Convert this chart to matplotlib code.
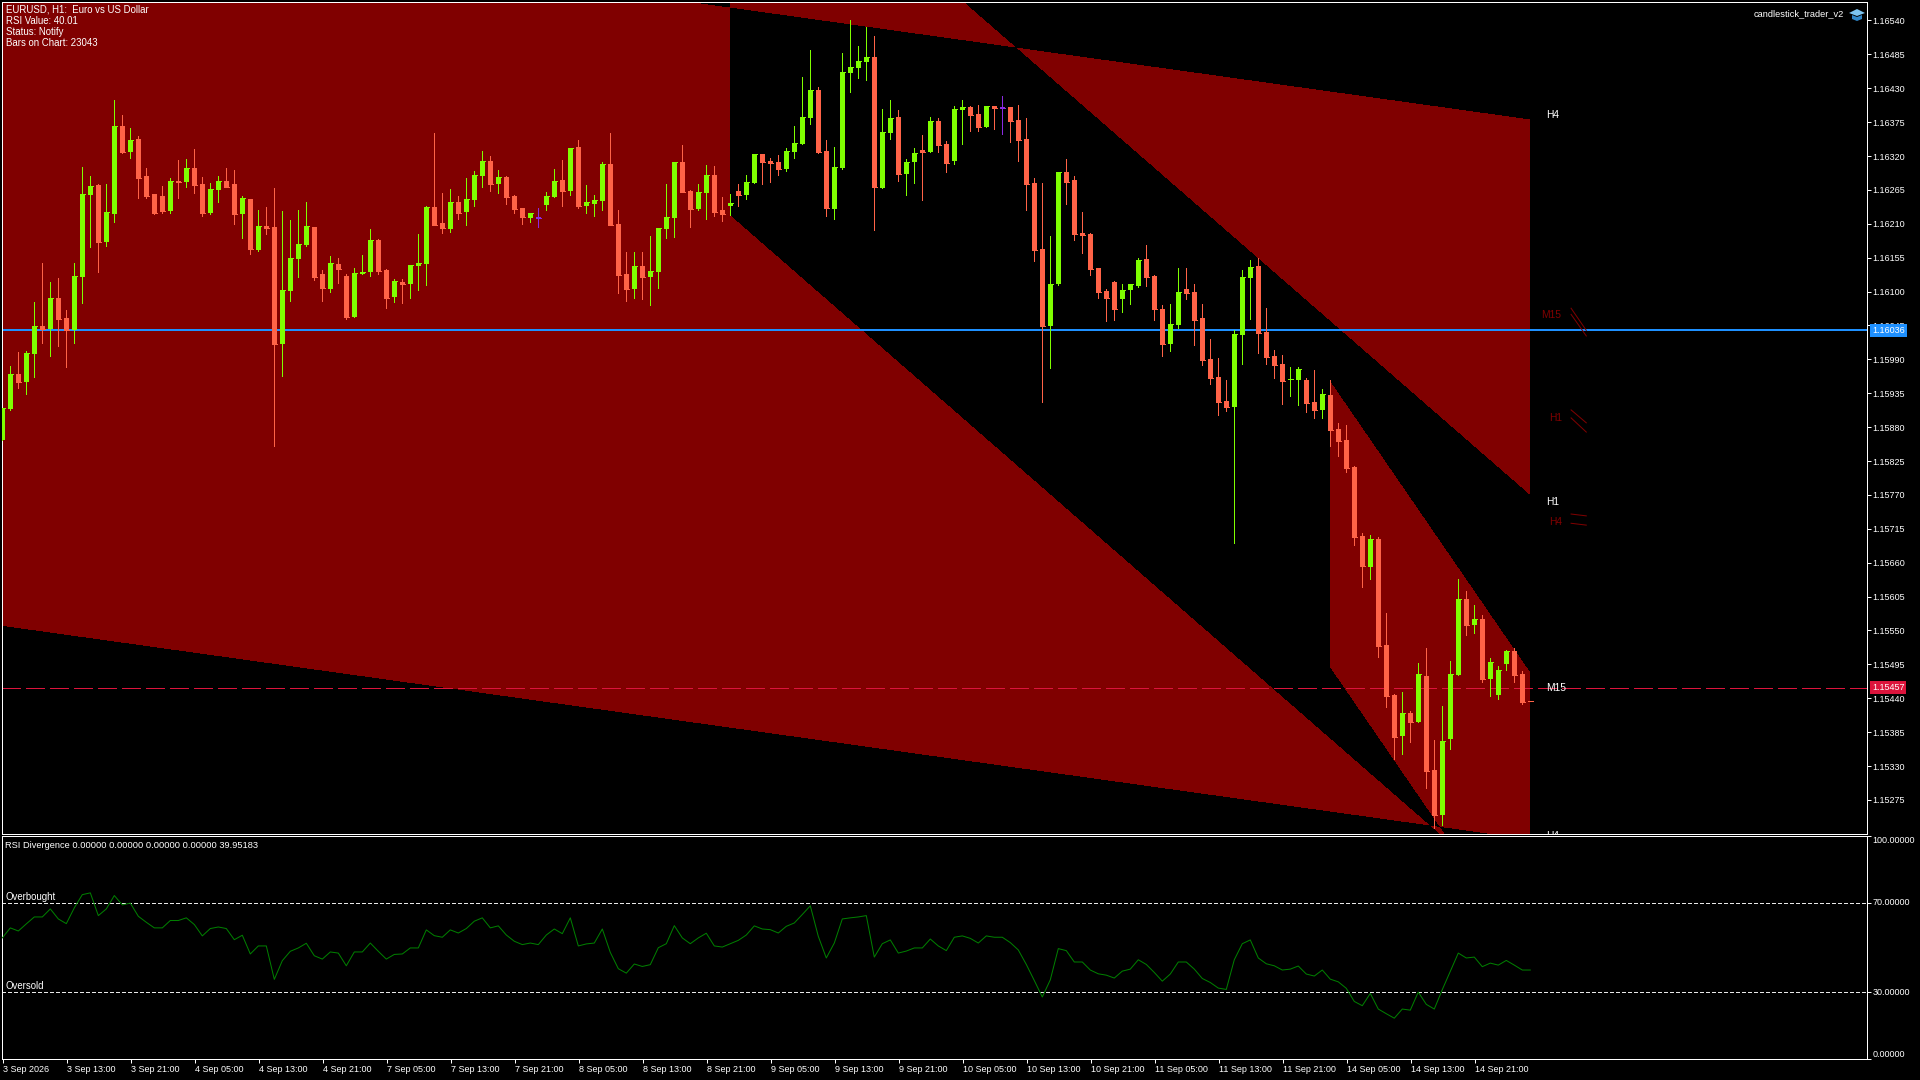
import numpy as np
import matplotlib
matplotlib.use("Agg")
import matplotlib.pyplot as plt
from matplotlib.colors import ListedColormap
from matplotlib.patches import Polygon
from matplotlib.transforms import IdentityTransform

plt.rcParams['font.family'] = ['Liberation Sans', 'DejaVu Sans']
plt.rcParams['lines.scale_dashes'] = False

# EURUSD H1 candles, in points (1/100000)
opens = [
    115859,115909,115967,115953,115999,116044,116039,116089,116057,116037,
    116124,116257,116273,116180,116226,116369,116326,116347,116287,116258,
    116255,116231,116279,116278,116300,116274,116227,116265,116279,116274,
    116226,116250,116167,116206,116205,116015,116101,116153,116175,116205,
    116128,116104,116145,116125,116059,116128,116131,116184,116135,116091,
    116115,116112,116141,116145,116237,116211,116201,116245,116229,116249,
    116287,116312,116274,116286,116255,116235,116219,116221,116240,116253,
    116281,116263,116334,116239,116242,116247,116307,116209,116128,116104,
    116141,116124,116131,116201,116219,116310,116263,116234,116260,116289,
    116232,116239,116263,116257,116276,116323,116312,116310,116299,116326,
    116339,116381,116427,116328,116234,116300,116455,116463,116472,116480,
    116268,116357,116383,116291,116310,116330,116326,116377,116339,116312,
    116395,116399,116388,116367,116401,116399,116399,116378,116347,116276,
    116169,116044,116112,116294,116281,116195,116193,116138,116101,116115,
    116088,116102,116109,116153,116125,116072,116015,116046,116104,116099,
    116057,115990,115962,115922,115912,116029,116122,116141,116034,115995,
    115982,115956,115956,115956,115921,115908,115932,115877,115859,115815,
    115703,115653,115699,115527,115445,115379,115416,115401,115476,115323,
    115250,115374,115477,115601,115559,115568,115471,115445,115495,115516,
    115479,115436]
highs = [
    115911,115979,116002,116003,116083,116146,116115,116122,116070,116146,
    116302,116287,116274,116274,116411,116386,116365,116352,116300,116258,
    116271,116284,116313,116315,116331,116286,116276,116287,116300,116297,
    116255,116250,116232,116237,116268,116231,116216,116232,116245,116205,
    116135,116158,116154,116128,116138,116159,116201,116185,116137,116120,
    116120,116143,116193,116239,116357,116260,116266,116255,116284,116295,
    116328,116320,116297,116287,116257,116235,116227,116235,116261,116299,
    116313,116333,116346,116273,116257,116310,116357,116232,116164,116164,
    116164,116190,116203,116274,116310,116338,116265,116274,116305,116304,
    116253,116258,116274,116289,116323,116323,116317,116322,116333,116369,
    116448,116492,116432,116346,116334,116487,116541,116498,116529,116515,
    116396,116411,116395,116315,116333,116354,116383,116381,116344,116401,
    116411,116401,116403,116401,116401,116417,116399,116403,116381,116284,
    116276,116190,116294,116315,116287,116229,116195,116138,116104,116117,
    116112,116112,116154,116175,116127,116078,116080,116138,116138,116112,
    116080,116023,115992,115956,116037,116135,116151,116154,116073,116006,
    115997,115978,115978,115960,115973,115942,115956,115886,115883,115817,
    115708,115705,115702,115579,115447,115450,115419,115497,115521,115372,
    115427,115500,115634,115614,115591,115575,115505,115492,115518,115521,
    115484,115436]
lows = [
    115859,115908,115943,115934,115962,116016,115995,116011,115978,116016,
    116081,116172,116131,116174,116213,116325,116317,116252,116252,116226,
    116227,116227,116252,116270,116260,116222,116226,116245,116270,116209,
    116187,116161,116166,116193,115849,115963,116085,116124,116174,116119,
    116085,116099,116114,116055,116059,116128,116125,116128,116073,116083,
    116081,116089,116102,116110,116208,116195,116196,116218,116208,116239,
    116270,116263,116260,116242,116227,116209,116213,116205,116232,116253,
    116239,116257,116235,116227,116222,116232,116208,116097,116085,116089,
    116088,116078,116106,116187,116188,116261,116205,116232,116218,116222,
    116214,116224,116239,116250,116276,116274,116278,116289,116295,116317,
    116339,116372,116325,116222,116218,116299,116424,116446,116443,116200,
    116268,116347,116279,116257,116276,116249,116326,116326,116294,116307,
    116339,116360,116360,116367,116364,116356,116343,116312,116232,116149,
    115921,115976,116110,116242,116184,116162,116127,116089,116052,116054,
    116067,116080,116107,116109,116054,115995,116003,116041,116088,116013,
    115981,115950,115900,115906,115692,115982,116055,116000,115982,115960,
    115917,115930,115916,115904,115895,115895,115849,115833,115807,115689,
    115621,115634,115507,115426,115341,115349,115369,115401,115294,115229,
    115234,115357,115477,115542,115546,115466,115444,115439,115486,115466,
    115431,115436]
closes = [
    115911,115967,115953,116000,116044,116039,116089,116055,116037,116125,
    116258,116271,116180,116229,116369,116326,116346,116284,116255,116227,
    116231,116279,116278,116300,116273,116227,116266,116279,116270,116226,
    116252,116169,116206,116203,116015,116102,116154,116177,116206,116124,
    116106,116146,116137,116059,116130,116131,116184,116133,116089,116117,
    116112,116143,116146,116237,116208,116203,116245,116227,116250,116289,
    116312,116274,116286,116253,116234,116221,116227,116220,116255,116279,
    116263,116333,116239,116245,116249,116307,116208,116127,116104,116141,
    116124,116133,116203,116221,116310,116261,116234,116261,116289,116229,
    116226,116244,116257,116278,116323,116310,116308,116299,116328,116341,
    116383,116427,116326,116235,116302,116456,116464,116474,116480,116270,
    116359,116381,116291,116310,116325,116326,116377,116338,116308,116396,
    116399,116386,116367,116401,116398,116398,116377,116346,116274,116167,
    116044,116112,116294,116278,116193,116192,116137,116099,116089,116072,
    116102,116112,116151,116124,116072,116015,116047,116099,116097,116054,
    115989,115960,115921,115912,116031,116124,116140,116033,115994,115981,
    115955,115958,115974,115919,115908,115934,115875,115857,115814,115702,
    115655,115699,115525,115444,115377,115416,115401,115479,115322,115250,
    115370,115479,115601,115559,115568,115471,115499,115486,115516,115477,
    115434,115436]
purple_bars = [67, 125]

rsi = [
    54.3,58.8,57.4,60.6,63.7,63.7,67.3,62.8,60.7,67.8,
    73.7,74.5,64.3,67.3,73.3,69.1,69.9,64.0,61.3,58.8,
    58.8,62.1,62.1,63.3,60.3,55.2,58.5,59.2,58.5,53.5,
    55.5,47.1,50.7,50.7,35.7,44.1,48.3,49.8,51.9,46.3,
    44.8,48.0,47.5,41.8,48.0,48.0,52.0,48.3,44.8,46.9,
    47.1,49.8,49.8,57.9,55.3,54.6,57.9,56.5,58.5,61.8,
    63.3,58.8,59.7,55.6,52.8,51.3,52.0,51.3,55.6,58.3,
    56.2,63.3,50.7,51.6,52.0,58.3,47.8,40.5,38.5,42.6,
    41.5,42.3,49.9,51.7,59.8,54.3,51.7,54.3,56.4,50.7,
    50.2,51.7,53.2,55.6,59.7,58.3,58.0,56.5,59.5,61.0,
    64.8,68.7,55.0,45.3,52.0,62.8,63.3,63.7,64.3,45.7,
    51.7,53.4,47.5,48.4,49.8,49.8,53.8,50.7,48.6,54.6,
    55.2,54.1,52.0,55.2,54.6,54.6,52.2,48.9,42.4,35.2,
    27.8,35.5,49.5,48.6,43.5,43.5,39.9,38.2,37.6,36.3,
    39.4,40.3,44.5,42.4,38.8,34.9,38.1,43.5,43.5,40.3,
    36.1,34.3,31.8,31.2,44.5,51.7,53.4,45.3,42.7,41.8,
    39.9,40.3,41.7,38.1,37.2,39.9,35.8,34.6,31.7,25.8,
    23.9,29.4,22.4,20.3,18.3,22.4,21.9,30.0,24.5,22.4,
    31.1,39.3,47.5,45.3,45.7,41.4,43.0,42.1,44.2,42.1,
    39.9,39.9]

# regression channels: bar range, then upper and lower edge at both ends
channel_t = [[0, 191], [91, 191], [166, 191]]
channel_top = [[116727, 116380], [116901, 115770], [115955, 115482]]
channel_bot = [[115557, 115210], [116224, 115091], [115490, 115017]]

bid_price = 1.15457
ask_price = 1.16037
ask_text = "1.16036"

price_ticks = [1.16540 - 0.00055 * k for k in range(24)]
rsi_ticks = [0, 30, 70, 100]
time_labels = ["3 Sep 2026", "3 Sep 13:00", "3 Sep 21:00", "4 Sep 05:00", "4 Sep 13:00", "4 Sep 21:00",
               "7 Sep 05:00", "7 Sep 13:00", "7 Sep 21:00", "8 Sep 05:00", "8 Sep 13:00", "8 Sep 21:00",
               "9 Sep 05:00", "9 Sep 13:00", "9 Sep 21:00", "10 Sep 05:00", "10 Sep 13:00", "10 Sep 21:00",
               "11 Sep 05:00", "11 Sep 13:00", "11 Sep 21:00", "14 Sep 05:00", "14 Sep 13:00", "14 Sep 21:00"]

# timeframe labels to the right of the last bar
tf_labels = ["H4", "M15", "H1", "H1", "H4", "M15", "H4"]
tf_t = [193.0, 192.4, 193.3, 193.0, 193.3, 193.0, 193.0]
tf_price = [1.16386, 1.16062, 1.15895, 1.15759, 1.15726, 1.15457, 1.15216]
DARK_RED = "#800000"
tf_colors = ["white", DARK_RED, DARK_RED, "white", DARK_RED, "white", "white"]

# the little channel marks next to the dark labels
mark_t = [[196.1, 198.0]] * 6
mark_price = [[1.16073, 1.16037], [1.16063, 1.16028], [1.15908, 1.15887],
              [1.15895, 1.15872], [1.15739, 1.15736], [1.15724, 1.15721]]

W, H = 1920, 1080
FS = 6.5
FS_TEXT = 6.9
BULL = "#7FFF00"
BEAR = "#FF6347"
PURPLE = "#8A2BE2"
PX = 0.72  # one pixel in points


def px_axes(fig, left, top, right, bottom):
    return fig.add_axes([left / W, 1 - bottom / H, (right - left) / W, (bottom - top) / H], facecolor="black")


def style_axes(ax):
    for s in ax.spines.values():
        s.set_color("white")
        s.set_linewidth(PX)
    ax.tick_params(colors="white", length=2.9, width=PX, labelsize=FS, pad=1.2)
    ax.yaxis.tick_right()


fig = plt.figure(figsize=(W / 100, H / 100), dpi=100, facecolor="black")
ax = px_axes(fig, 2, 2, 1867, 834)
sub = px_axes(fig, 2, 836, 1867, 1059)
style_axes(ax)
style_axes(sub)

t_lim = (-0.04, 233.09)
p_lim = (1.152197, 1.165700)

# channels overlap with xor, like the terminal draws them
grid_t = np.linspace(t_lim[0], t_lim[1], 1865)
grid_p = np.linspace(p_lim[1], p_lim[0], 832)
tt, pp = np.meshgrid(grid_t, grid_p)
fill = np.zeros(tt.shape, dtype=int)
for ts, top, bot in zip(channel_t, channel_top, channel_bot):
    frac = (tt - ts[0]) / (ts[1] - ts[0])
    upper = (top[0] + frac * (top[1] - top[0])) / 1e5
    lower = (bot[0] + frac * (bot[1] - bot[0])) / 1e5
    inside = (tt >= ts[0]) & (tt <= ts[1]) & (pp <= upper) & (pp >= lower)
    fill ^= inside.astype(int)
# the first channel starts left of the first bar
fill[(tt < 0) & (pp >= channel_bot[0][0] / 1e5)] = 1
ax.imshow(fill, extent=[t_lim[0], t_lim[1], p_lim[0], p_lim[1]], cmap=ListedColormap(["black", DARK_RED]),
          interpolation="nearest", aspect="auto", zorder=0)

ax.axhline(ask_price, color="#1E90FF", lw=2 * PX, zorder=1, antialiased=False)
ax.axhline(bid_price, color="#DC143C", lw=PX, ls=(0, (13, 4.2)), zorder=1, antialiased=False)

# candles
o = np.array(opens) / 1e5
h = np.array(highs) / 1e5
l = np.array(lows) / 1e5
c = np.array(closes) / 1e5
t = np.arange(len(o))
colors = [BULL if c[i] > o[i] else BEAR for i in t]
for i in purple_bars:
    colors[i] = PURPLE
ax.vlines(t, l, h, colors=colors, lw=PX, zorder=3, antialiased=False)
ax.bar(t, np.abs(c - o), bottom=np.minimum(o, c), width=5 / 8, color=colors, lw=0, zorder=3, antialiased=False)
ax.hlines(c, t - 2.5 / 8, t + 2.5 / 8, colors=colors, lw=PX, zorder=3, antialiased=False)

for lab, x, y, col in zip(tf_labels, tf_t, tf_price, tf_colors):
    ax.text(x, y, lab, color=col, fontsize=7.4, va="center", ha="left", zorder=5, clip_on=True)
for xs, ys in zip(mark_t, mark_price):
    ax.plot(xs, ys, color=DARK_RED, lw=PX, zorder=4)

ax.set_xlim(*t_lim)
ax.set_ylim(*p_lim)
ax.set_xticks([])
ax.set_yticks(price_ticks)
ax.set_yticklabels([f"{p:.5f}" for p in price_ticks])

# price tags on the scale
for price, txt, col in [(ask_price, ask_text, "#1E90FF"), (bid_price, "1.15457", "#DC143C")]:
    ax.annotate(txt, xy=(1, price), xycoords=("axes fraction", "data"), xytext=(3.6, 0), textcoords="offset points",
                color="white", fontsize=FS, va="center", ha="left", annotation_clip=False, zorder=10,
                bbox=dict(boxstyle="square,pad=0.2", fc=col, ec="none"))

# rsi panel
sub.plot(t, rsi, color="#008000", lw=PX, zorder=3)
for lev in (70, 30):
    sub.axhline(lev, color="#E8E8E8", lw=PX, ls=(0, (2.2, 1.5)), zorder=2, antialiased=False)
sub.text(0.4, 70.6, "Overbought", color="white", fontsize=FS_TEXT, va="bottom", zorder=4)
sub.text(0.4, 30.6, "Oversold", color="white", fontsize=FS_TEXT, va="bottom", zorder=4)
sub.set_xlim(*t_lim)
sub.set_ylim(0, 100)
sub.set_yticks(rsi_ticks)
sub.set_yticklabels([f"{v:.5f}" for v in rsi_ticks])
for lab, va in zip(sub.get_yticklabels(), ["bottom", "center", "center", "top"]):
    lab.set_va(va)
sub.set_xticks(np.arange(len(time_labels)) * 8 + 0.03)
sub.set_xticklabels(time_labels, ha="left")

header = ["EURUSD, H1:  Euro vs US Dollar", "RSI Value: 40.01", "Status: Notify", "Bars on Chart: 23043"]
for k, line in enumerate(header):
    fig.text(6.5 / W, 1 - (9.7 + 11 * k) / H, line, color="white", fontsize=FS_TEXT, va="center", ha="left")
fig.text(5 / W, 1 - 845.7 / H, "RSI Divergence 0.00000 0.00000 0.00000 0.00000 39.95183", color="white",
         fontsize=6.7, va="center", ha="left")
fig.text(1844 / W, 1 - 14 / H, "candlestick_trader_v2", color="white", fontsize=6.7, va="center", ha="right")

# graduation cap icon of the expert advisor
cap_top = [(1849, 13), (1857, 9), (1865, 13), (1857, 16)]
cap_base = [(1852, 15), (1857, 17), (1862, 15), (1862, 19), (1857, 21), (1852, 19)]
for pts, col in [(cap_base, "#2F86C8"), (cap_top, "#7CC4F0")]:
    fig.add_artist(Polygon([(x, H - y) for x, y in pts], closed=True, fc=col, ec="none", transform=IdentityTransform()))

fig.savefig("out.png", dpi=100, facecolor="black")
